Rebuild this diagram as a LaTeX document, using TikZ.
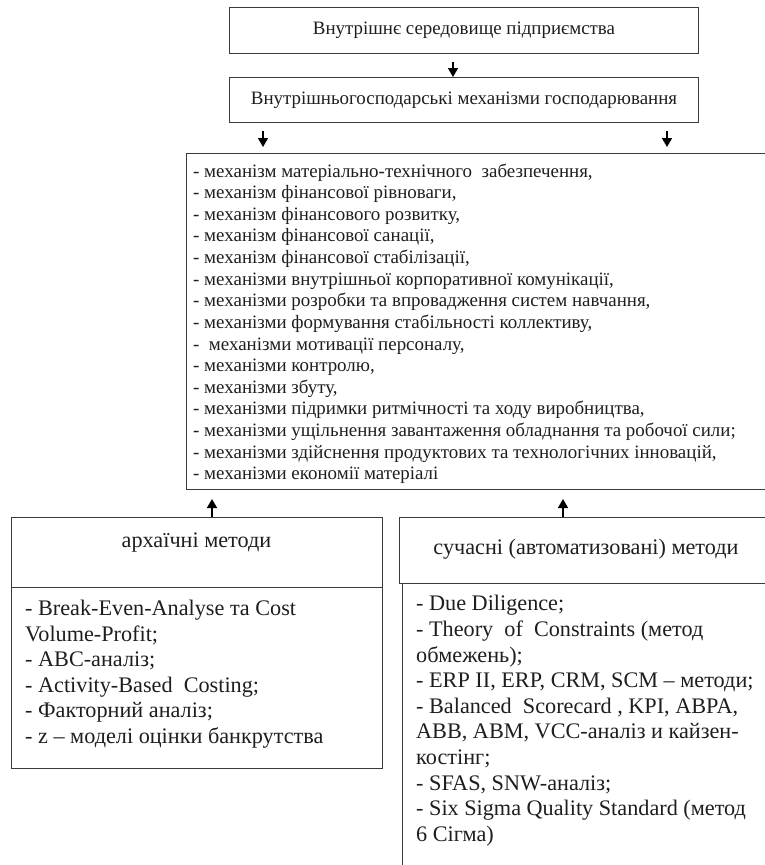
\documentclass[tikz,border=0pt]{standalone}
\usepackage{fontspec}
\setmainfont{Liberation Serif}
\usetikzlibrary{arrows.meta}
\definecolor{linec}{HTML}{3A3A3A}
\definecolor{textc}{HTML}{1E1E1E}
\begin{document}
\begin{tikzpicture}[x=1bp,y=-1bp,
  box/.style={draw=linec, line width=1bp, rectangle, inner sep=0pt, anchor=north west, text=textc},
  arr/.style={draw=black, line width=1.6bp, -{Triangle[width=10bp,length=9bp]}},
  topfont/.style={font=\fontsize{19}{22}\selectfont},
  midfont/.style={font=\fontsize{19}{21.7}\selectfont},
  lowfont/.style={font=\fontsize{22.3}{25.7}\selectfont},
  txt/.style={inner sep=0pt, text=textc, align=left, anchor=base west}]
\useasboundingbox (0,0) rectangle (765,865);
\clip (0,0) rectangle (765,865);

% top boxes
\node[box, topfont, minimum width=469bp, minimum height=46bp] (env) at (229,7) {Внутрішнє середовище підприємства};
\node[box, topfont, minimum width=469bp, minimum height=45bp] (mech) at (229,77) {Внутрішньогосподарські механізми господарювання};

% big box (text node anchored at the baseline of its last line)
\node[box, minimum width=640bp, minimum height=336bp] (big) at (186,153) {};
\node[txt, midfont] (bigtext) at (193,479.8) {- механізм матеріально-технічного\ \ забезпечення,\\
- механізм фінансової рівноваги,\\
- механізм фінансового розвитку,\\
- механізм фінансової санації,\\
- механізм фінансової стабілізації,\\
- механізми внутрішньої корпоративної комунікації,\\
- механізми розробки та впровадження систем навчання,\\
- механізми формування стабільності коллективу,\\
-\ \ механізми мотивації персоналу,\\
- механізми контролю,\\
- механізми збуту,\\
- механізми підримки ритмічності та ходу виробництва,\\
- механізми ущільнення завантаження обладнання та робочої сили;\\
- механізми здійснення продуктових та технологічних інновацій,\\
- механізми економії матеріалі};

% lower left box
\node[box, minimum width=371bp, minimum height=70bp] (lhead) at (11,517) {};
\node[box, minimum width=371bp, minimum height=181bp] (lbody) at (11,587) {};
\node[inner sep=0pt, text=textc, lowfont, anchor=base] (ltitle) at (196.5,547) {архаїчні методи};
\node[txt, lowfont] (ltext) at (25,743.5) {- Break-Even-Analyse та Cost\\
Volume-Profit;\\
- ABC-аналіз;\\
- Activity-Based\ \ Costing;\\
- Факторний аналіз;\\
- z – моделі оцінки банкрутства};

% lower right box
\node[box, minimum width=374bp, minimum height=66bp] (rhead) at (399,517) {};
\node[box, minimum width=374bp, minimum height=320bp] (rbody) at (402,583) {};
\node[inner sep=0pt, text=textc, lowfont, anchor=base] (rtitle) at (586,554) {сучасні (автоматизовані) методи};
\node[txt, lowfont] (rtext) at (416,841.3) {- Due Diligence;\\
- Theory\ \ of\ \ Constraints (метод\\
обмежень);\\
- ERP II, ERP, CRM, SCM – методи;\\
- Balanced\ \ Scorecard , KPI, ABPA,\\
ABB, ABM, VCC-аналіз и кайзен-\\
костінг;\\
- SFAS, SNW-аналіз;\\
- Six Sigma Quality Standard (метод\\
6 Сігма)};

% arrow anchor coordinates
\coordinate (a1) at (453,62);
\coordinate (a2) at (263,131);
\coordinate (a3) at (667,131);
\coordinate (a4x) at (212,0);
\coordinate (a5x) at (563,0);

\draw[arr] (a1) -- (mech.north -| a1);
\draw[arr, shorten >=6bp] (a2) -- (big.north -| a2);
\draw[arr, shorten >=6bp] (a3) -- (big.north -| a3);
\draw[arr, shorten >=9bp] (lhead.north -| a4x) -- (big.south -| a4x);
\draw[arr, shorten >=9bp] (rhead.north -| a5x) -- (big.south -| a5x);
\end{tikzpicture}
\end{document}
